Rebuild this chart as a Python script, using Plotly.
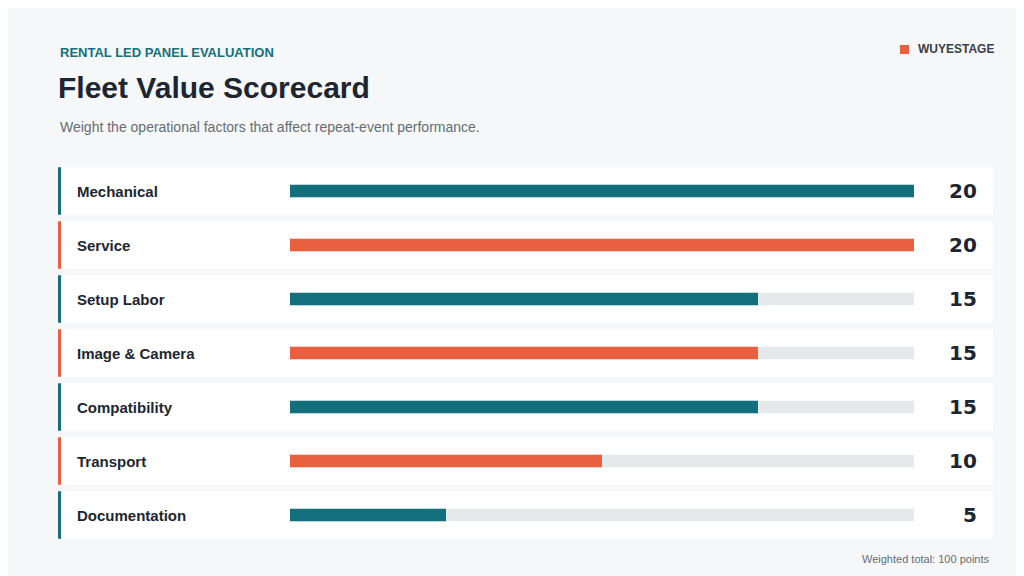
import plotly.graph_objects as go

categories = ["Mechanical", "Service", "Setup Labor", "Image & Camera", "Compatibility", "Transport", "Documentation"]
scores = [20, 20, 15, 15, 15, 10, 5]
max_score = 20
TEAL, ORANGE = "#11707c", "#e8603f"
colors = [TEAL if i % 2 == 0 else ORANGE for i in range(len(categories))]

W, H = 1024, 576
L, R, T, B = 282, 906, 156, 534
def px(x): return (x - L) / (R - L)
def py(y): return (B - y) / (B - T)

fig = go.Figure()
fig.add_trace(go.Bar(y=categories, x=[max_score]*len(categories), orientation="h",
                     marker=dict(color="#e6e9ec", line=dict(width=0)), width=0.23, hoverinfo="skip"))
fig.add_trace(go.Bar(y=categories, x=scores, orientation="h",
                     marker=dict(color=colors, line=dict(width=0)), width=0.23))

shapes, anns = [], []
for i, (c, s, col) in enumerate(zip(categories, scores, colors)):
    shapes.append(dict(type="rect", xref="paper", yref="y", x0=px(50), x1=px(985), y0=i-0.44, y1=i+0.44,
                       fillcolor="white", line=dict(width=0), layer="below"))
    shapes.append(dict(type="rect", xref="paper", yref="y", x0=px(50), x1=px(53), y0=i-0.44, y1=i+0.44,
                       fillcolor=col, line=dict(width=0), layer="below"))
    anns.append(dict(xref="paper", yref="y", x=px(67), y=i, text=f"<b>{c}</b>", showarrow=False,
                     xanchor="left", font=dict(size=15, color="#1d2630")))
    anns.append(dict(xref="paper", yref="y", x=px(971), y=i, text=f"<b>{s}</b>", showarrow=False,
                     xanchor="right", font=dict(size=20, color="#1d2630", family="Arial Black, DejaVu Sans")))

def top(text, x, y, size, color, anchor="left"):
    anns.append(dict(xref="paper", yref="paper", x=px(x), y=py(y), text=text, showarrow=False,
                     xanchor=anchor, yanchor="middle", font=dict(size=size, color=color)))
top("<b>RENTAL LED PANEL EVALUATION</b>", 50, 45, 13, "#11707c")
top("<b>Fleet Value Scorecard</b>", 48, 79, 30, "#1d2630")
top("Weight the operational factors that affect repeat-event performance.", 50, 119, 14, "#666d75")
top("<b>WUYESTAGE</b>", 988, 41, 12, "#3a4148", "right")
top("Weighted total: 100 points", 983, 551, 11, "#666d75", "right")
shapes.append(dict(type="rect", xref="paper", yref="paper", x0=px(892), x1=px(901), y0=py(46), y1=py(37),
                   fillcolor=ORANGE, line=dict(width=0)))

fig.update_layout(width=W, height=H, margin=dict(l=L, r=W-R, t=T, b=H-B),
                  paper_bgcolor="#f5f7f9", plot_bgcolor="rgba(0,0,0,0)", barmode="overlay",
                  showlegend=False, shapes=shapes, annotations=anns,
                  font=dict(family="Liberation Sans, Arial, sans-serif"),
                  xaxis=dict(range=[0, max_score], visible=False, fixedrange=True),
                  yaxis=dict(range=[len(categories)-0.5, -0.5], visible=False, fixedrange=True,
                             categoryorder="array", categoryarray=categories))
fig.write_html("out.html", config={"displayModeBar": False})
